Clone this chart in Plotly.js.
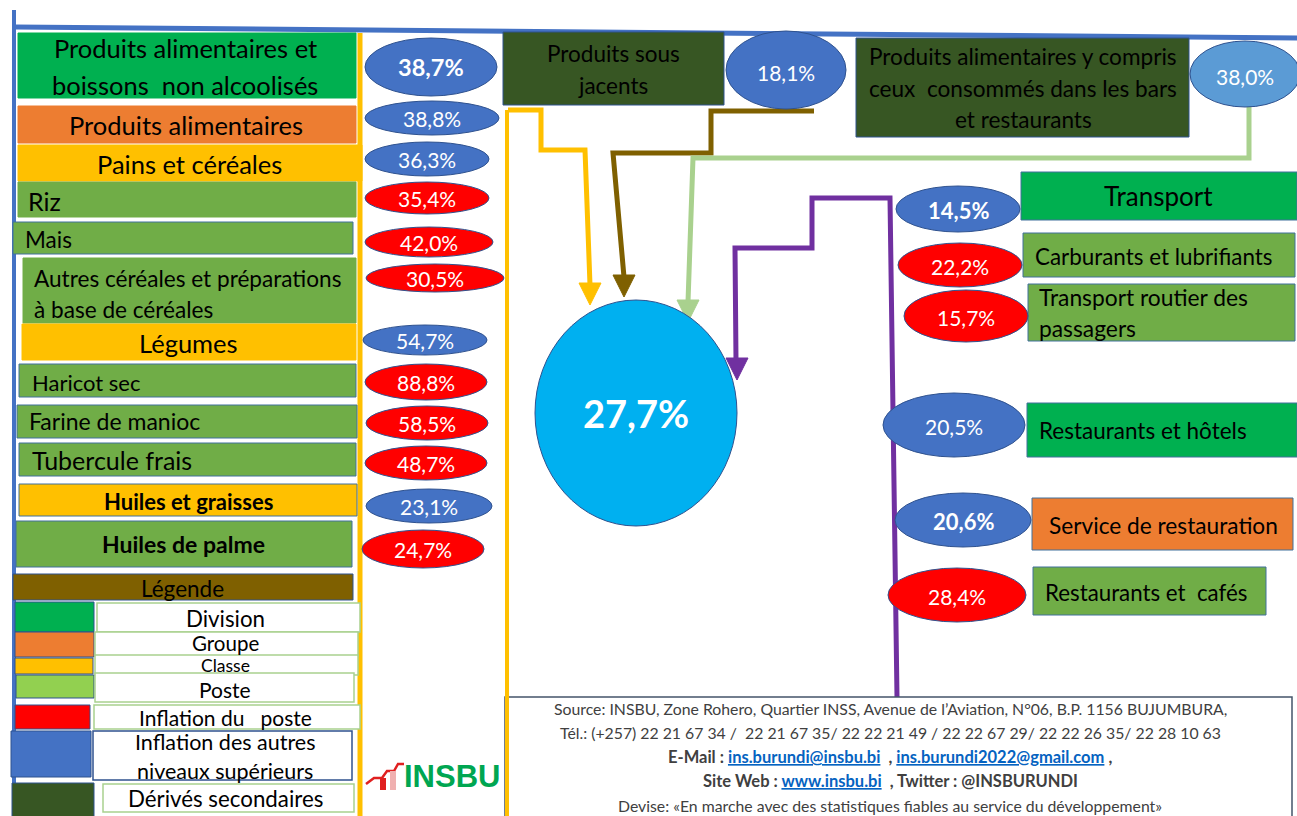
<!DOCTYPE html>
<html><head><meta charset="utf-8">
<script src="https://cdn.plot.ly/plotly-3.0.1.min.js"></script>
<style>html,body{margin:0;padding:0;background:#fff;overflow:hidden}</style>
</head><body><div id="chart" style="width:1297px;height:816px"></div>
<script>
// ---------------- DATA ----------------
const leftLabels = ["Produits alimentaires et<br>boissons  non alcoolisés", "Produits alimentaires", "Pains et céréales", "Riz", "Mais",
  "Autres céréales et préparations<br>à base de céréales", "Légumes", "Haricot sec", "Farine de manioc", "Tubercule frais",
  "<b>Huiles et graisses</b>", "<b>Huiles de palme</b>"];
const leftLevels = ["Division","Groupe","Classe","Poste","Poste","Poste","Classe","Poste","Poste","Poste","Classe","Poste"];
const leftValues = [38.7, 38.8, 36.3, 35.4, 42.0, 30.5, 54.7, 88.8, 58.5, 48.7, 23.1, 24.7];
const leftKinds  = ["autres","autres","autres","poste","poste","poste","autres","poste","poste","poste","autres","poste"];

const rightLabels = ["Transport", "Carburants et lubrifiants", "Transport routier des<br>passagers", "Restaurants et hôtels", "Service de restauration", "Restaurants et  cafés"];
const rightLevels = ["Division","Poste","Poste","Division","Groupe","Poste"];
const rightValues = [14.5, 22.2, 15.7, 20.5, 20.6, 28.4];
const rightKinds  = ["autres","poste","poste","autres","autres","poste"];

const topLabels = ["Produits sous<br>jacents", "Produits alimentaires y compris<br>ceux  consommés dans les bars<br>et restaurants"];
const topValues = [18.1, 38.0];

const centerValue = 27.7;

const legendTitle = "Légende";
const legendLabels = ["Division","Groupe","Classe","Poste","Inflation du   poste","Inflation des autres<br>niveaux supérieurs","Dérivés secondaires"];

const sourceLines = [
  "Source: INSBU, Zone Rohero, Quartier INSS, Avenue de l’Aviation, N°06, B.P. 1156 BUJUMBURA,",
  "Tél.: (+257) 22 21 67 34 /  22 21 67 35/ 22 22 21 49 / 22 22 67 29/ 22 22 26 35/ 22 28 10 63",
  "<b>E-Mail : </b><b><span style='color:#0563C1;text-decoration:underline'>ins.burundi@insbu.bi</span></b><b>  , </b><b><span style='color:#0563C1;text-decoration:underline'>ins.burundi2022@gmail.com</span></b><b> ,</b>",
  "<b>Site Web : </b><b><span style='color:#0563C1;text-decoration:underline'>www.insbu.bi</span></b><b>  , Twitter : @INSBURUNDI</b>",
  "Devise: «En marche avec des statistiques fiables au service du développement»"
];
const logoText = "INSBU";

// ---------------- STYLES / LAYOUT ----------------
const levelColor = {Division:"#00B050", Groupe:"#ED7D31", Classe:"#FFC000", Poste:"#70AD47", Derive:"#375623"};
const kindColor = {autres:"#4472C4", poste:"#FF0000"};
const legendColors = ["#00B050","#ED7D31","#FFC000","#92D050","#FF0000","#4472C4","#375623"];
const FONT = 'Lato, "Noto Sans", sans-serif';

const leftBoxes = [[18,356,33,98],[18,356,106,143],[18,362,145,181],[18,356,182,217],[13,353,222,254],[23,356,258,323],
  [22,356,324,360],[19,356,364,397],[17,357,405,438],[19,356,443,476],[19,357,484,516],[16,352,521,567]];
const leftOvals = [[431,67,66,29],[432,118,67,17],[427,159,62,17],[427,198,62,16],[429,242,64,15],[435,278,69,14],
  [425,340,62,15],[426,382,61,18],[427,423,61,17],[426,463,61,17],[429,506,63,17],[423,549,61,19]];
// [x, anchor, size, lineGap]
const leftText = [[185,'center',25.5,37],[186,'center',25.5,0],[189,'center',25.5,0],[27,'left',25,0],[24,'left',22.5,0],[33,'left',22.6,31],
  [188,'center',25.5,0],[31,'left',22,0],[28,'left',23,0],[31,'left',25,0],[188,'center',22,0],[183,'center',23,0]];
const leftTextY = [66,125,164,201,239,294,343,382,421,460,501,544];
const leftValBold = [true,false,false,false,false,false,false,false,false,false,false,false];

const rightBoxes = [[1021,1297,172,220],[1023,1295,233,277],[1028,1295,284,341],[1027,1297,403,457],[1032,1293,498,550],[1033,1266,567,615]];
const rightOvals = [[958,209,62,23],[960,265,62,22],[966,316,62,26],[954,425,71,32],[963,520,68,27],[957,595,69,27]];
const rightText = [[1158,'center',26,0,196],[1034,'left',22.4,0,256],[1038,'left',22.8,31,312],[1038,'left',22.5,0,430],[1048,'left',22.7,0,525],[1044,'left',22.3,0,592]];
const rightValBold = [true,false,false,false,true,false];

const topBoxes = [[503,724,32,105],[856,1189,38,137]];
const topOvals = [[786,70,60,39],[1245,74,55,33]];
const topOvalColors = ["#4472C4","#5B9BD5"];
const topText = [[613,69,22.5,32],[1023,88,22.6,31.5]];

const legendSwatches = [[15,94,602,632],[15,94,632,657],[15,93,658,674],[16,94,675,698],[15,90,705,729],[11,91,731,777],[12,94,783,818]];
const legendBoxes = [[97,360,603,632],[95,358,632,656],[95,358,655,675],[95,354,673,702],[94,360,705,729],[93,352,731,780],[103,354,784,812]];
const legendTextY = [618,643,665,689,717,756,798];
const legendTextSize = [22.3,20.5,17.5,21,21,21.5,22.3];

// ---------------- HELPERS ----------------
const shapes = [], ann = [];
const fmt = v => v.toFixed(1).replace('.', ',') + '%';
function rect(b, fill, line, lw){ shapes.push({type:'rect', xref:'x', yref:'y', x0:b[0], x1:b[1], y0:b[2], y1:b[3], fillcolor:fill, line:{color:line||fill, width: lw===undefined?1:lw}, layer:'above'}); }
function oval(o, fill, line){ shapes.push({type:'circle', xref:'x', yref:'y', x0:o[0]-o[2], x1:o[0]+o[2], y0:o[1]-o[3], y1:o[1]+o[3], fillcolor:fill, line:{color:line||'#2F528F', width:1}, layer:'above'}); }
function path(d, color, w, fill){ shapes.push({type:'path', xref:'x', yref:'y', path:d, line:{color:color, width:w}, fillcolor:fill||'rgba(0,0,0,0)', layer:'above'}); }
function arrowHead(x, y, color){ path(`M${x-11},${y-22} L${x+11},${y-22} L${x},${y} Z`, color, 1, color); }
function txt(x, y, s, size, color, anchor, lh, family){
  const parts = s.split('<br>');
  const n = parts.length;
  parts.forEach((p,i) => {
    ann.push({xref:'x', yref:'y', x:x, y: y + (i-(n-1)/2)*(lh||0), text:p, showarrow:false,
      xanchor: anchor||'center', yanchor:'middle', borderpad:0, font:{family: family||FONT, size:size, color: color||'#000'}});
  });
}

// ---------------- FRAME LINES ----------------
path('M14,10 L14,816', '#4472C4', 4);
path('M15,27 L1297,38', '#4472C4', 5);
path('M360,33 L360,816', '#FFC000', 5);

// ---------------- CONNECTOR ARROWS ----------------
path('M508,110 L541,110 L541,150 L585,150 L590,285', '#FFC000', 5);
arrowHead(590, 305, '#FFC000');
path('M814,111 L711,111 L711,153 L613,153 L624,277', '#7F6000', 5);
arrowHead(624, 297, '#7F6000');
path('M1249,104 L1249,158 L693,158 L688,302', '#A9D18E', 5);
arrowHead(688, 322, '#A9D18E');
path('M897,697 L890,198 L812,198 L812,248 L735,248 L736,360', '#7030A0', 5);
arrowHead(737, 380, '#7030A0');

// ---------------- CENTER ----------------
oval([636,413,101,113], '#00B0F0', '#2F528F');
txt(636, 413, '<b>' + fmt(centerValue) + '</b>', 38, '#fff');

// ---------------- LEFT COLUMN ----------------
leftLabels.forEach((lab, i) => {
  rect(leftBoxes[i], levelColor[leftLevels[i]], (i>=7 && i<=11) || i===4 ? '#41719C' : levelColor[leftLevels[i]], 1);
  const t = leftText[i];
  txt(t[0], leftTextY[i], lab, t[2], '#000', t[1], t[3]);
});
leftValues.forEach((v, i) => {
  oval(leftOvals[i], kindColor[leftKinds[i]], '#2F528F');
  const s = fmt(v);
  txt(leftOvals[i][0], leftOvals[i][1], leftValBold[i] ? '<b>'+s+'</b>' : s, leftValBold[i] ? 23.5 : 21, '#fff');
});

// ---------------- TOP ----------------
topLabels.forEach((lab, i) => {
  rect(topBoxes[i], levelColor.Derive, '#2F528F', 1);
  txt(topText[i][0], topText[i][1], lab, topText[i][2], '#000', 'center', topText[i][3]);
});
topValues.forEach((v, i) => {
  oval(topOvals[i], topOvalColors[i], '#2F528F');
  txt(topOvals[i][0], topOvals[i][1]+2, fmt(v), 21, '#fff');
});

// ---------------- RIGHT ----------------
rightLabels.forEach((lab, i) => {
  rect(rightBoxes[i], levelColor[rightLevels[i]], '#41719C', 1);
  const t = rightText[i];
  txt(t[0], t[4], lab, t[2], '#000', t[1], t[3]);
});
rightValues.forEach((v, i) => {
  oval(rightOvals[i], kindColor[rightKinds[i]], '#2F528F');
  const s = fmt(v);
  txt(rightOvals[i][0], rightOvals[i][1]+1, rightValBold[i] ? '<b>'+s+'</b>' : s, rightValBold[i] ? 22 : 21, '#fff');
});

// ---------------- LEGEND ----------------
rect([13,353,574,600], '#7F6000', '#2F528F', 1);
txt(182, 588, legendTitle, 22.5, '#000');
legendLabels.forEach((lab, i) => {
  rect(legendSwatches[i], legendColors[i], '#2F528F', 1);
  rect(legendBoxes[i], '#FFFFFF', i===5 ? '#2F528F' : '#A9D18E', 1.5);
  txt(225, legendTextY[i], lab, legendTextSize[i], '#000', 'center', 29);
});

// ---------------- LOGO ----------------
path('M366,784 L374,778 L382,778 L387,771 L394,771 L398,764 L404,764', '#E02020', 2.5);
rect([380,386,778,790], '#E02020', '#E02020', 0);
rect([390,396,771,790], '#F0B0B0', '#F0B0B0', 0);
txt(452, 776, '<b>' + logoText + '</b>', 31, '#00A651', 'center', 0, '"Liberation Sans", Arial, sans-serif');

// ---------------- SOURCE BOX ----------------
rect([505,1292,697,820], '#FFFFFF', '#44546A', 1.5);
path('M507,110 L507,816', '#FFC000', 4);
sourceLines.forEach((s, i) => {
  txt(890, 708 + i*24.3, s, (i===2 || i===3) ? 16.5 : 15.8, '#404040', 'center', 0);
});

// ---------------- RENDER ----------------
const layout = {
  width: 1297, height: 816,
  margin: {l:0, r:0, t:0, b:0},
  paper_bgcolor: '#FFFFFF', plot_bgcolor: '#FFFFFF',
  xaxis: {range:[0,1297], visible:false, fixedrange:true},
  yaxis: {range:[816,0], visible:false, fixedrange:true},
  showlegend: false,
  shapes: shapes,
  annotations: ann
};
Plotly.newPlot('chart', [{x:[], y:[], type:'scatter', mode:'markers'}], layout, {displayModeBar:false, staticPlot:true});
</script></body></html>
